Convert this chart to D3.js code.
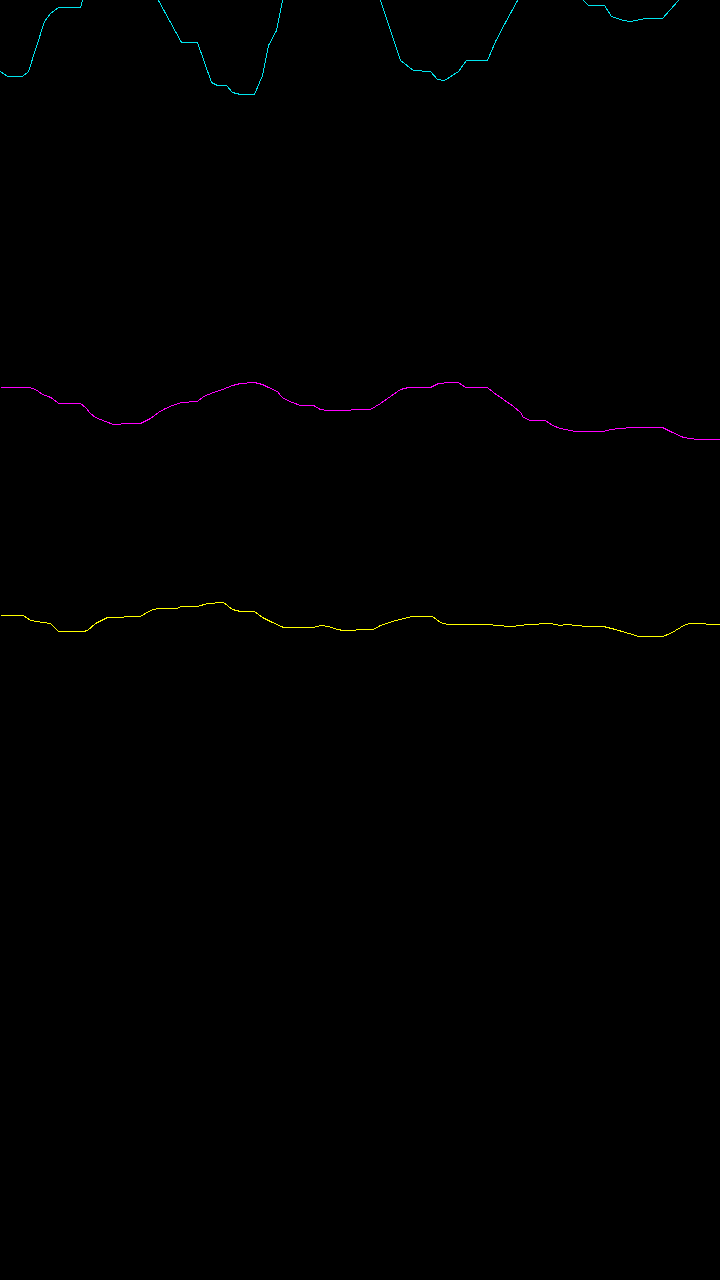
<!DOCTYPE html>
<html>
<head>
<meta charset="utf-8">
<script src="https://cdn.jsdelivr.net/npm/d3@7"></script>
<style>
  html, body { margin: 0; padding: 0; background: #000; }
  svg { display: block; }
</style>
</head>
<body>
<script>
// Sample index (horizontal) and level (vertical) for each trace
const cyanT = [0,7,22,28,44,50,58,80,82,95,120,145,158,181,197,211,217,226,232,240,254,262,268,276,282,300,330,360,380,400,413,430,437,444,458,466,487,495,505,517,535,555,575,583,588,604,611,623,630,645,662,678,700,720];
const cyanV = [569,564,564,569,619,627,633,633,640,670,685,670,640,598,598,558,555,555,548,546,546,565,595,610,640,675,690,675,640,580,570,569,561,560,569,580,580,599,618,640,665,670,652,640,635,635,624,620,619,622,622,640,665,680];

const magentaT = [0,28,33,38,42,48,52,58,80,85,90,95,105,113,120,121,140,150,158,163,172,181,197,203,213,222,232,240,254,262,268,277,280,283,292,300,313,320,327,350,351,370,380,390,400,408,430,438,450,458,465,487,493,503,513,520,523,530,545,552,560,575,603,610,620,632,662,672,683,697,720];
const magentaV = [253,253,252,249,246,244,242,237,237,233,227,223,219,216,216,217,217,222,228,231,235,238,239,244,248,251,255,257,258,256,253,249,245,242,238,235,235,231,230,230,231,231,237,244,251,253,253,257,258,258,253,253,248,241,234,228,223,220,220,215,212,209,209,211,212,213,213,208,203,201,201];

const yellowT = [0,23,30,43,50,58,83,87,95,107,140,150,157,177,180,197,207,223,232,240,254,262,272,283,313,320,328,337,343,355,356,373,380,395,412,432,440,447,490,495,512,527,550,560,565,577,585,603,615,625,632,638,662,670,680,685,690,720];
const yellowV = [25,25,20,18,17,9,9,10,17,23,24,30,32,32,34,34,37,38,31,29,29,23,18,13,13,15,14,11,10,10,11,11,15,20,24,24,18,16,16,15,14,16,17,15,16,15,14,14,11,8,6,4,4,7,13,16,17,16];

const series = [
  { name: "cyan",    t: cyanT,    v: cyanV,    color: "#00e5ee" },
  { name: "magenta", t: magentaT, v: magentaV, color: "#ff00ff" },
  { name: "yellow",  t: yellowT,  v: yellowV,  color: "#ffff00" }
];

const W = 720, H = 1280;
const x = d3.scaleLinear().domain([0, 720]).range([0, W]);
const y = d3.scaleLinear().domain([-640, 640]).range([H, 0]);

const svg = d3.select("body").append("svg")
  .attr("width", W).attr("height", H);

svg.append("rect").attr("width", W).attr("height", H).attr("fill", "#000");

const line = d3.line()
  .x(d => x(d[0]) + 0.5)
  .y(d => y(d[1]) + 0.5);

svg.selectAll("path.trace")
  .data(series)
  .join("path")
  .attr("class", "trace")
  .attr("d", s => line(s.t.map((t, i) => [t, s.v[i]])))
  .attr("fill", "none")
  .attr("stroke", s => s.color)
  .attr("stroke-width", 1)
  .attr("shape-rendering", "crispEdges");
</script>
</body>
</html>
